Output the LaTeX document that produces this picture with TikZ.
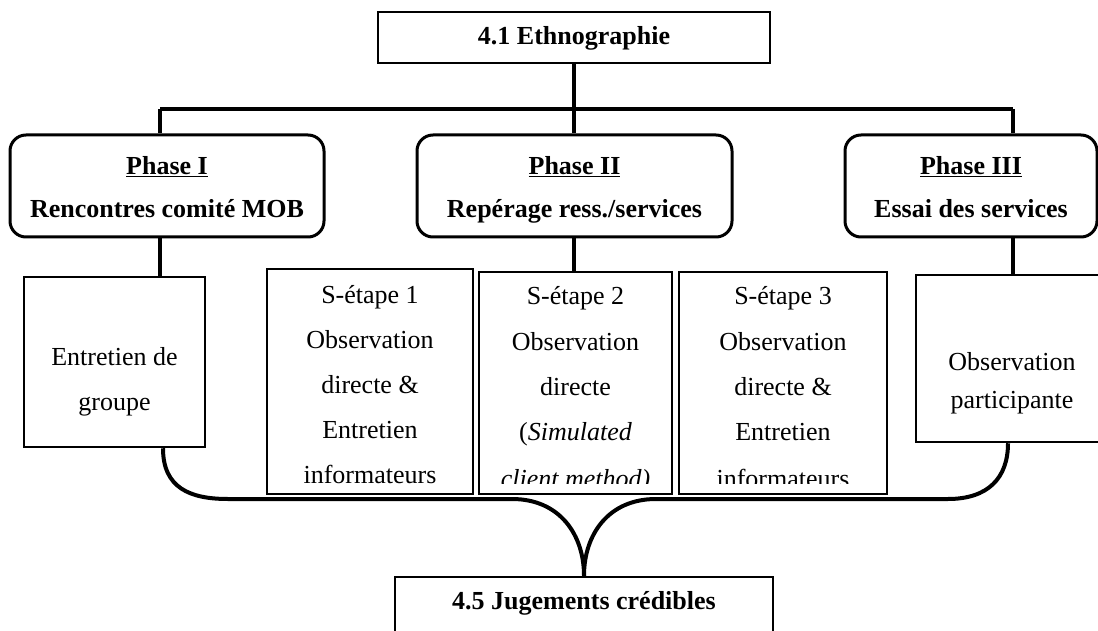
\documentclass[tikz,border=0pt]{standalone}
\usepackage{fontspec}
\setmainfont{Liberation Serif}
\begin{document}
\begin{tikzpicture}[x=1pt,y=-1pt,
  box/.style={draw, line width=2.5pt, inner sep=0pt},
  phasebox/.style={draw, line width=3pt, rounded corners=16pt, inner sep=0pt},
  conn/.style={line width=4pt},
  txt/.style={anchor=base, inner sep=0pt, font=\fontsize{26}{30}\selectfont},
  btxt/.style={anchor=base, inner sep=0pt, font=\fontsize{26}{30}\selectfont\bfseries}]
\useasboundingbox (0,0) rectangle (1098,631);
\clip (0,0) rectangle (1098,631);

% boxes
\node[box, minimum width=392pt, minimum height=51pt] (top) at (574,37.5) {};
\node[phasebox, minimum width=314pt, minimum height=102pt] (p1) at (167,186) {};
\node[phasebox, minimum width=315pt, minimum height=102pt] (p2) at (574.5,186) {};
\node[phasebox, minimum width=252pt, minimum height=102pt] (p3) at (971,186) {};
\node[box, minimum width=181pt, minimum height=170pt] (ent) at (114.5,362) {};
\node[box, minimum width=206pt, minimum height=225pt] (s1) at (370,381.5) {};
\node[box, minimum width=193pt, minimum height=222pt] (s2) at (575.5,383) {};
\node[box, minimum width=208pt, minimum height=222pt] (s3) at (783,383) {};
\node[box, minimum width=192pt, minimum height=167pt] (obs) at (1012,358.5) {};
\node[box, minimum width=378pt, minimum height=62pt] (bot) at (584,608) {};

% connectors
\coordinate (barL) at (160,109);
\coordinate (barR) at (1013,109);
\draw[conn] (top.south) -- (top.south |- barL);
\draw[conn] (barL) -- (barR);
\draw[conn] (barL) -- (barL |- p1.north);
\draw[conn] (top.south |- barL) -- (top.south |- p2.north);
\draw[conn] (barR) -- (barR |- p3.north);
\draw[conn] (barL |- p1.south) -- (barL |- ent.north);
\draw[conn] (top.south |- p2.south) -- (top.south |- s2.north);
\draw[conn] (barR |- p3.south) -- (barR |- obs.north);

\coordinate (eb) at ([xshift=48.5pt]ent.south);
\coordinate (ob) at ([xshift=-4pt]obs.south);
\draw[conn] (eb) .. controls (163,488) and (190,499) .. (228,499) -- (512,499)
  .. controls (560,499) and (584,535) .. (bot.north);
\draw[conn] (bot.north) .. controls (584,535) and (608,499) .. (656,499) -- (948,499)
  .. controls (988,499) and (1008,478) .. (ob);

% texts
\node[btxt] (t41) at (574,45) {4.1 Ethnographie};
\node[btxt] (p1a) at (167,175) {\underline{Phase I}};
\node[btxt] (p1b) at (167,218) {Rencontres comité MOB};
\node[btxt] (p2a) at (574.5,175) {\underline{Phase II}};
\node[btxt] (p2b) at (574.5,218) {Repérage ress./services};
\node[btxt] (p3a) at (971,175) {\underline{Phase III}};
\node[btxt] (p3b) at (971,218) {Essai des services};

\node[txt] (e1) at (114.5,365) {Entretien de};
\node[txt] (e2) at (114.5,410) {groupe};

\node[txt] (a1) at (370,303) {S-étape 1};
\node[txt] (a2) at (370,348) {Observation};
\node[txt] (a3) at (370,393) {directe \&};
\node[txt] (a4) at (370,438) {Entretien};
\node[txt] (a5) at (370,483) {informateurs};

\node[txt] (b1) at (575.5,305) {S-étape 2};
\node[txt] (b2) at (575.5,350) {Observation};
\node[txt] (b3) at (575.5,395) {directe};
\node[txt] (b4) at (575.5,440) {(\textit{Simulated}};

\node[txt] (c1) at (783,305) {S-étape 3};
\node[txt] (c2) at (783,350) {Observation};
\node[txt] (c3) at (783,395) {directe \&};
\node[txt] (c4) at (783,440) {Entretien};

\begin{scope}
\clip (482,460) rectangle (884,483);
\node[txt] (b5) at (575.5,487) {\textit{client method)}};
\node[txt] (c5) at (783,487) {informateurs};
\end{scope}

\node[txt] (o1) at (1012,370) {Observation};
\node[txt] (o2) at (1012,408) {participante};

\node[btxt] (t45) at (584,609) {4.5 Jugements crédibles};
\end{tikzpicture}
\end{document}
